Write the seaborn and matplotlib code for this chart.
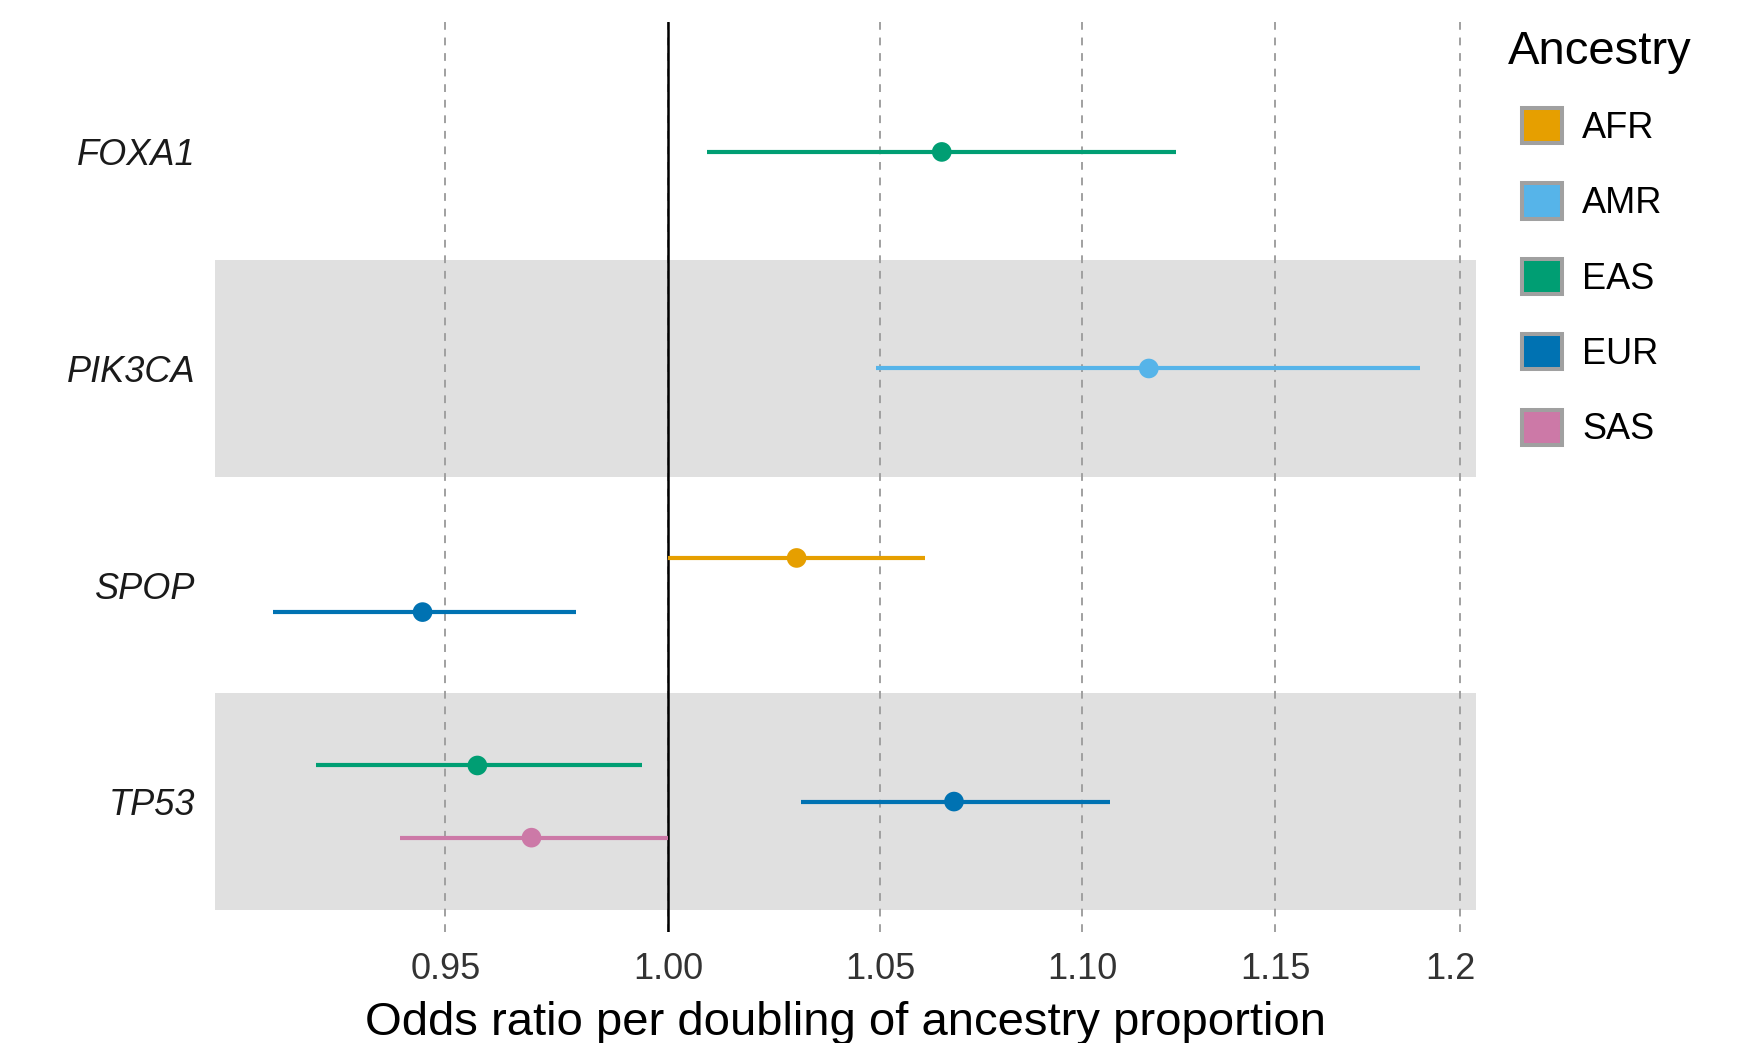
import matplotlib
matplotlib.use("Agg")
import matplotlib.pyplot as plt
import seaborn as sns
import pandas as pd
from matplotlib.patches import Patch
from matplotlib.transforms import Bbox, TransformedBbox

# values
genes = ["FOXA1", "PIK3CA", "SPOP", "TP53"]
row_gene = ["FOXA1", "PIK3CA", "SPOP", "SPOP", "TP53", "TP53", "TP53"]
row_ancestry = ["EAS", "AMR", "AFR", "EUR", "EAS", "EUR", "SAS"]
odds_ratio = [1.065, 1.117, 1.030, 0.945, 0.957, 1.068, 0.969]
ci_low = [1.009, 1.049, 1.000, 0.913, 0.922, 1.031, 0.940]
ci_high = [1.124, 1.189, 1.061, 0.979, 0.994, 1.107, 1.000]

ancestries = ["AFR", "AMR", "EAS", "EUR", "SAS"]
colors = ["#E69F00", "#56B4E9", "#009E73", "#0072B2", "#CC79A7"]
x_ticks = [0.95, 1.00, 1.05, 1.10, 1.15, 1.20]
x_tick_labels = ["0.95", "1.00", "1.05", "1.10", "1.15", "1.20"]

df = pd.DataFrame({"gene": row_gene, "ancestry": row_ancestry, "or": odds_ratio,
                   "lo": ci_low, "hi": ci_high})

# dodge the ancestries that are present inside each gene row
dodge_width = 0.5
df["y"] = 0.0
for g, sub in df.groupby("gene"):
    idx = sub.sort_values("ancestry").index
    n = len(idx)
    for i, k in enumerate(idx):
        df.loc[k, "y"] = genes.index(g) + (i - (n - 1) / 2) * dodge_width / n

palette = dict(zip(ancestries, colors))

sns.set_style("white")
plt.rcParams["font.family"] = ["Liberation Sans", "DejaVu Sans"]

fig = plt.figure(figsize=(17.47, 10.43), dpi=100)
ax = fig.add_axes([215 / 1747, 1 - 931.5 / 1043, (1476 - 215) / 1747, 909.5 / 1043])

# alternating grey bands
for i in range(len(genes)):
    if i % 2 == 1:
        ax.axhspan(i - 0.5, i + 0.5, color="#e0e0e0", lw=0, zorder=0)

ax.hlines(df["y"], df["lo"], df["hi"], colors=[palette[a] for a in df["ancestry"]],
          lw=3.0, zorder=2)
sns.scatterplot(data=df, x="or", y="y", hue="ancestry", palette=palette, s=200,
                edgecolor="none", legend=False, zorder=3, ax=ax)
ax.axvline(1.0, color="black", lw=1.8, zorder=1.5)

ax.set_xscale("log")
ax.set_xlim(0.9009, 1.2044)
ax.set_ylim(3.6, -0.6)
ax.set_xticks(x_ticks)
ax.set_xticklabels(x_tick_labels)
ax.minorticks_off()
ax.set_yticks(range(len(genes)))
ax.set_yticklabels(genes, fontstyle="italic")

ax.set_axisbelow(True)
ax.grid(axis="x", color="#a0a0a0", linestyle=(0, (4, 4)), lw=1.4)
ax.grid(axis="y", visible=False)
for s in ax.spines.values():
    s.set_visible(False)

ax.tick_params(axis="x", length=0, pad=14.5, labelsize=26, labelcolor="#333333")
ax.tick_params(axis="y", length=0, pad=14, labelsize=26, labelcolor="#1a1a1a")
ax.set_xlabel("Odds ratio per doubling of ancestry proportion", fontsize=34,
              labelpad=10, color="black")
ax.set_ylabel("")

# the last tick label is cut at the panel edge
clip = TransformedBbox(Bbox([[0, -1], [1, 1]]), ax.transAxes)
for lbl in ax.get_xticklabels():
    lbl.set_clip_box(clip)
    lbl.set_clip_on(True)

handles = [Patch(facecolor=c, edgecolor="#a0a0a0", linewidth=2.9, label=a)
           for a, c in zip(ancestries, colors)]
leg = ax.legend(handles=handles, title="Ancestry", loc="upper left",
                bbox_to_anchor=(1522 / 1747, 1 - 26.5 / 1043), bbox_transform=fig.transFigure,
                frameon=False, fontsize=26, title_fontsize=34, handlelength=1.12,
                handleheight=1.12, labelspacing=1.04, handletextpad=0.55,
                borderpad=0, borderaxespad=0, alignment="left", labelcolor="black")
leg.get_title().set_position((-14, -3.5))
leg.get_title().set_color("black")

fig.savefig("out.png", dpi=100)
